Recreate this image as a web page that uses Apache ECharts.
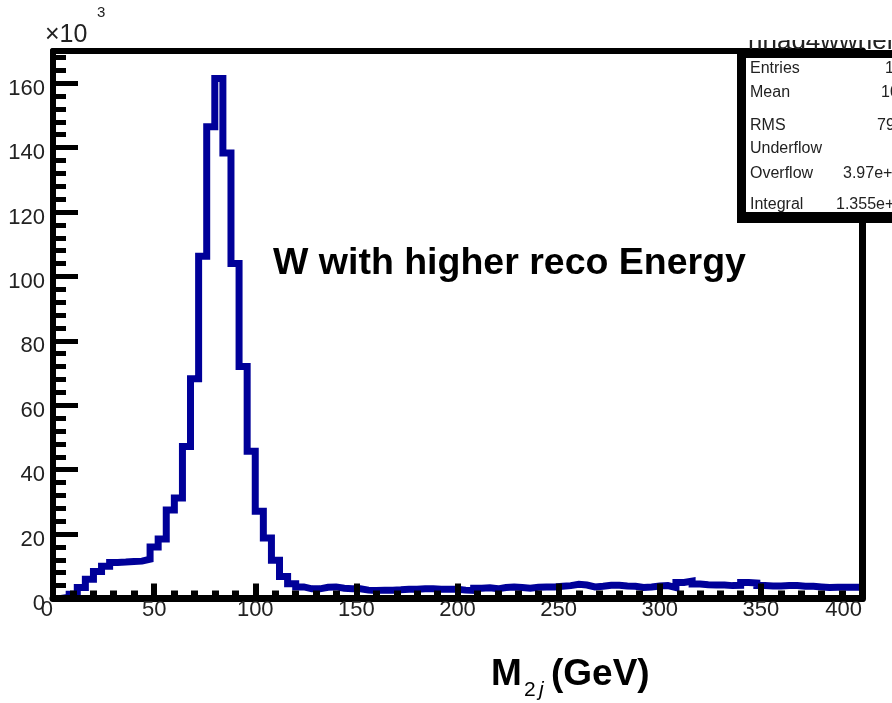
<!DOCTYPE html>
<html>
<head>
<meta charset="utf-8">
<script src="https://cdn.jsdelivr.net/npm/echarts@6/dist/echarts.min.js"></script>
<style>
html,body{margin:0;padding:0;background:#fff;}
#c{width:892px;height:703px;}
</style>
</head>
<body>
<div id="c"></div>
<script>
// Histogram bin edges (GeV) and contents (x10^3 entries)
const binEdges = [0,4,8,12,16,20,24,28,32,36,40,44,48,52,56,60,64,68,72,76,80,84,88,92,96,100,
  104,108,112,116,120,124,128,132,136,140,144,148,152,156,160,164,168,172,176,180,184,188,192,196,200,
  204,208,212,216,220,224,228,232,236,240,244,248,252,256,260,264,268,272,276,280,284,288,292,296,300,
  304,308,312,316,320,324,328,332,336,340,344,348,352,356,360,364,368,372,376,380,384,388,392,396,400];
const counts = [
  0, 0.4, 1.3, 3.4, 6.0, 8.4, 10.0, 11.2, 11.3, 11.5,
  11.6, 12.2, 16.0, 18.5, 27.5, 31.2, 47.2, 68.2, 106.3, 146.5,
  161.5, 138.3, 104.0, 72.0, 45.7, 27.1, 18.8, 11.9, 6.8, 4.6,
  3.6, 3.0, 3.0, 3.5, 3.6, 3.2, 3.0, 3.0, 2.6, 2.5,
  2.6, 2.6, 2.7, 2.9, 2.9, 3.0, 3.0, 2.9, 2.9, 2.9,
  2.6, 2.5, 3.2, 3.3, 3.0, 3.4, 3.6, 3.4, 3.2, 3.5,
  3.6, 3.6, 3.8, 4.0, 4.4, 4.2, 3.6, 3.8, 4.1, 4.1,
  3.9, 3.8, 3.4, 3.6, 3.9, 4.0, 3.4, 5.0, 5.4, 4.5,
  4.3, 4.2, 4.2, 4.0, 4.1, 5.0, 4.8, 4.0, 3.9, 3.9,
  4.0, 4.0, 3.8, 3.8, 3.6, 3.4, 3.5, 3.5, 3.5, 3.5
];
const xTickInterval = 50;
const yTickInterval = 20;
const yMinorInterval = 4;
const xMin = 0, xMax = 400, yMin = 0, yMax = 170;

const annotation = 'W with higher reco Energy';
const histName = 'hhad4wwhenergy';
const statLabels = ['Entries', 'Mean', 'RMS', 'Underflow', 'Overflow', 'Integral'];
const statValues = ['1355236', '106.2', '79.03', '', '3.97e+04', '1.355e+06'];

// step data built from bins
const stepData = counts.map((v, i) => [binEdges[i], v]);
stepData.push([binEdges[binEdges.length - 1], counts[counts.length - 1]]);

const FONT = 'Liberation Sans, Arial, Helvetica, sans-serif';
const chart = echarts.init(document.getElementById('c'), null, {renderer: 'canvas'});

const statY = [69, 93, 125.5, 149, 174, 205];
const statValX = [885, 881, 877, 900, 843, 836];
const graphics = [];
// histogram name (clipped at top)
graphics.push({type: 'text', x: 748, y: 42, z: 99, style: {text: histName, fontSize: 26, fontFamily: FONT, fill: '#222', align: 'left', verticalAlign: 'middle'}});
graphics.push({type: 'rect', z: 100, shape: {x: 735, y: 0, width: 160, height: 40}, style: {fill: '#fff'}});
// stats box with shadow
graphics.push({type: 'rect', z: 100, shape: {x: 737, y: 50, width: 170, height: 173}, style: {fill: '#000'}});
graphics.push({type: 'rect', z: 101, shape: {x: 746, y: 58, width: 160, height: 154}, style: {fill: '#fff'}});
statLabels.forEach((t, i) => {
  graphics.push({type: 'text', x: 750, y: statY[i], z: 102, style: {text: t, fontSize: 16, fontFamily: FONT, fill: '#222', align: 'left', verticalAlign: 'middle'}});
  if (statValues[i]) graphics.push({type: 'text', x: statValX[i], y: statY[i], z: 102, style: {text: statValues[i], fontSize: 16, fontFamily: FONT, fill: '#222', align: 'left', verticalAlign: 'middle'}});
});
// x10^3
graphics.push({type: 'text', x: 45, y: 35, z: 50, style: {text: '\u00d710', fontSize: 25, fontFamily: FONT, fill: '#222', align: 'left', verticalAlign: 'middle'}});
graphics.push({type: 'text', x: 97, y: 13, z: 50, style: {text: '3', fontSize: 15, fontFamily: FONT, fill: '#222', align: 'left', verticalAlign: 'middle'}});
// annotation
graphics.push({type: 'text', x: 273, y: 264, z: 50, style: {text: annotation, fontSize: 37.5, fontWeight: 'bold', fontFamily: FONT, fill: '#000', align: 'left', verticalAlign: 'middle'}});
// x-axis title M_{2j}(GeV)
graphics.push({type: 'text', x: 491, y: 675, z: 50, style: {text: 'M', fontSize: 37, fontWeight: 'bold', fontFamily: FONT, fill: '#000', align: 'left', verticalAlign: 'middle'}});
graphics.push({type: 'text', x: 524, y: 690, z: 50, style: {text: '2', fontSize: 21, fontFamily: FONT, fill: '#000', align: 'left', verticalAlign: 'middle'}});
graphics.push({type: 'text', x: 539, y: 690, z: 50, style: {text: 'j', fontSize: 21, fontStyle: 'italic', fontFamily: FONT, fill: '#000', align: 'left', verticalAlign: 'middle'}});
graphics.push({type: 'text', x: 551, y: 675, z: 50, style: {text: '(GeV)', fontSize: 37, fontWeight: 'bold', fontFamily: FONT, fill: '#000', align: 'left', verticalAlign: 'middle'}});

const option = {
  animation: false,
  backgroundColor: '#fff',
  grid: {left: 53, top: 51, width: 809, height: 547.5, show: false},
  xAxis: [{
    type: 'value', min: xMin, max: xMax, interval: xTickInterval, position: 'bottom', z: 5,
    axisLine: {show: true, onZero: false, lineStyle: {color: '#000', width: 7}},
    axisTick: {show: true, inside: true, length: 15, lineStyle: {color: '#000', width: 6}},
    minorTick: {show: true, splitNumber: 5, length: 8, lineStyle: {color: '#000', width: 7}},
    splitLine: {show: false}, minorSplitLine: {show: false},
    axisLabel: {fontSize: 22, fontFamily: FONT, color: '#222', margin: 0, alignMinLabel: 'right', alignMaxLabel: 'right'}
  }, {
    type: 'value', min: xMin, max: xMax, position: 'top', z: 5,
    axisLine: {show: true, onZero: false, lineStyle: {color: '#000', width: 6}},
    axisTick: {show: false}, axisLabel: {show: false}, splitLine: {show: false}
  }],
  yAxis: [{
    type: 'value', min: yMin, max: yMax, interval: yTickInterval, position: 'left', z: 5,
    axisLine: {show: true, onZero: false, lineStyle: {color: '#000', width: 6}},
    axisTick: {show: true, inside: true, length: 25, lineStyle: {color: '#000', width: 5}},
    splitLine: {show: false},
    axisLabel: {margin: 8,
      formatter: v => (v % yTickInterval === 0 ? '{a|' + v + '}' : ''),
      rich: {a: {fontSize: 22, fontFamily: FONT, color: '#222', padding: [11, 0, 0, 0]}}}
  }, {
    type: 'value', min: yMin, max: yMax, interval: yMinorInterval, position: 'left', offset: 0, z: 4,
    axisLine: {show: false},
    axisTick: {show: true, inside: true, length: 13, lineStyle: {color: '#000', width: 5}},
    axisLabel: {show: false}, splitLine: {show: false}
  }, {
    type: 'value', min: yMin, max: yMax, position: 'right', offset: 0, z: 5,
    axisLine: {show: true, onZero: false, lineStyle: {color: '#000', width: 7}},
    axisTick: {show: false}, axisLabel: {show: false}, splitLine: {show: false}
  }],
  series: [{
    type: 'line', xAxisIndex: 0, yAxisIndex: 0, step: 'end', data: stepData,
    symbol: 'none', showSymbol: false, z: 2,
    lineStyle: {color: '#000099', width: 7, cap: 'butt', join: 'miter'}
  }],
  graphic: graphics
};
chart.setOption(option);
</script>
</body>
</html>
